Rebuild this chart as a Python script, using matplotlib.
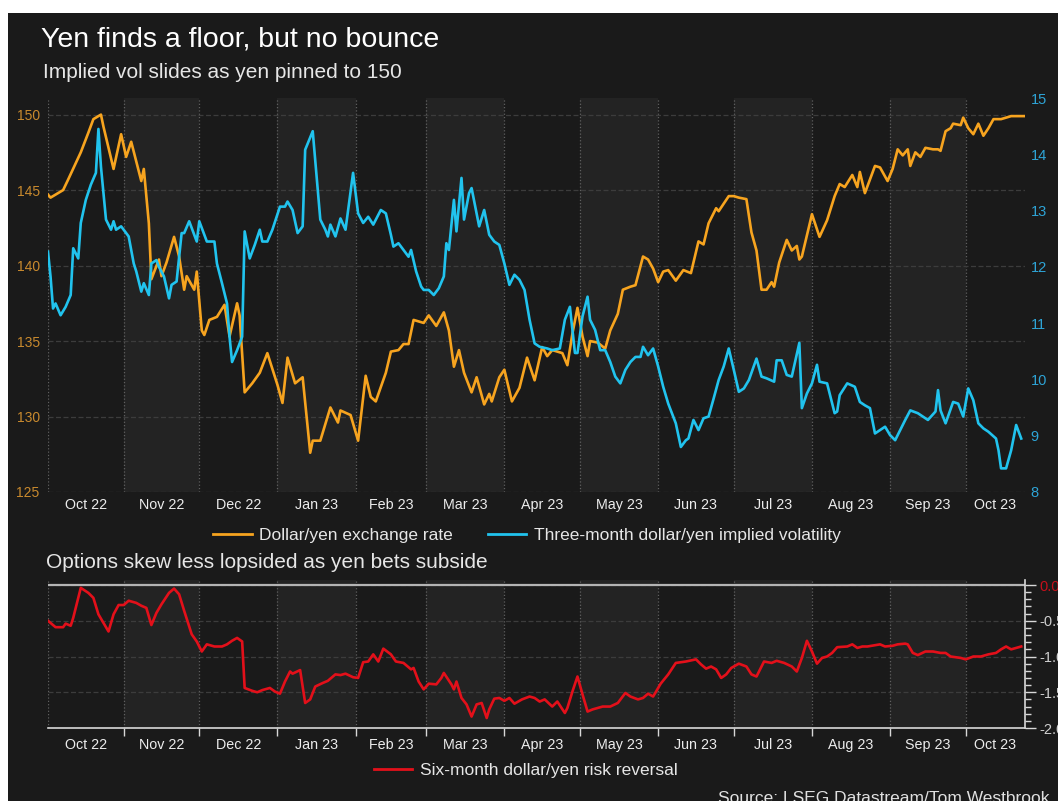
import matplotlib
matplotlib.use('Agg')
import matplotlib.pyplot as plt
import matplotlib.dates as mdates
from matplotlib.ticker import FixedLocator, FixedFormatter, MultipleLocator, FormatStrFormatter
from matplotlib.patches import Rectangle
from matplotlib.lines import Line2D
import pandas as pd

plt.rcParams['font.family'] = ['Liberation Sans', 'DejaVu Sans']
plt.rcParams['axes.unicode_minus'] = False

# all series: days after 2 Oct 2022, value
START = pd.Timestamp('2022-10-02')
END = pd.Timestamp('2023-10-24 12:00')

fx_day = [0, 1, 6, 8, 13, 16, 18, 21, 22, 26, 29, 31, 33, 37, 38, 40, 41, 44, 45, 47,
          50, 52, 54, 55, 58, 59, 61, 62, 64, 67, 70, 72, 75, 76, 78, 81, 84, 87, 91, 93,
          95, 98, 101, 104, 105, 108, 112, 115, 116, 120, 123, 126, 128, 130, 134, 136, 139, 141, 143, 145,
          149, 151, 154, 157, 159, 161, 163, 165, 168, 170, 173, 175, 176, 179, 181, 184, 187, 190, 193, 196,
          198, 200, 204, 206, 208, 210, 212, 214, 215, 218, 221, 223, 226, 228, 231, 233, 236, 238, 240, 242,
          244, 246, 249, 252, 255, 258, 260, 262, 265, 266, 270, 272, 274, 277, 279, 281, 283, 285, 287, 288,
          290, 293, 295, 297, 298, 299, 303, 306, 309, 312, 314, 316, 319, 321, 322, 324, 328, 330, 333, 335,
          337, 339, 341, 342, 344, 346, 348, 351, 353, 354, 356, 358, 359, 362, 363, 365, 367, 369, 371, 373,
          375, 378, 380, 382, 387]
fx_val = [144.7, 144.5, 145.0, 145.7, 147.5, 148.8, 149.7, 150.0, 149.2, 146.4, 148.7, 147.2, 148.2, 145.6, 146.4, 142.8, 139.1, 140.4, 139.3, 140.2,
          141.9, 140.6, 138.4, 139.3, 138.4, 139.6, 135.7, 135.4, 136.4, 136.6, 137.4, 135.3, 137.5, 136.7, 131.6, 132.2, 132.9, 134.2, 132.1, 130.9,
          133.9, 132.2, 132.6, 127.6, 128.4, 128.4, 130.6, 129.6, 130.4, 130.1, 128.4, 132.7, 131.3, 131.0, 132.9, 134.3, 134.4, 134.8, 134.8, 136.4,
          136.2, 136.7, 136.0, 136.9, 135.7, 133.3, 134.4, 132.9, 131.6, 132.6, 130.8, 131.5, 131.0, 132.6, 133.1, 131.0, 131.9, 133.9, 132.4, 134.6,
          134.0, 134.4, 134.2, 133.4, 135.5, 137.2, 135.3, 134.0, 135.0, 134.9, 134.5, 135.7, 136.8, 138.4, 138.6, 138.7, 140.6, 140.4, 139.8, 138.9,
          139.6, 139.7, 139.0, 139.7, 139.5, 141.6, 141.4, 142.8, 143.8, 143.6, 144.6, 144.6, 144.5, 144.4, 142.2, 141.0, 138.4, 138.4, 138.9, 138.6,
          140.2, 141.7, 141.0, 141.3, 140.4, 140.6, 143.4, 141.9, 143.0, 144.6, 145.4, 145.2, 146.0, 145.2, 146.2, 144.8, 146.6, 146.5, 145.6, 146.4,
          147.7, 147.3, 147.7, 146.6, 147.5, 147.2, 147.8, 147.7, 147.7, 147.6, 148.9, 149.1, 149.4, 149.3, 149.8, 149.1, 148.7, 149.4, 148.6, 149.1,
          149.7, 149.7, 149.8, 149.9, 149.9]

vol_day = [0, 1, 2, 3, 5, 7, 9, 10, 12, 13, 15, 17, 19, 20, 21, 23, 25, 26, 27, 29,
           31, 32, 34, 35, 37, 38, 40, 41, 43, 44, 46, 48, 49, 51, 53, 54, 56, 59, 60, 63,
           64, 66, 67, 69, 71, 72, 73, 75, 77, 78, 80, 82, 84, 85, 87, 89, 92, 94, 95, 97,
           99, 101, 102, 105, 108, 110, 111, 112, 114, 116, 118, 121, 123, 125, 127, 129, 132, 134, 136, 137,
           139, 141, 143, 144, 146, 148, 149, 151, 153, 155, 157, 158, 159, 161, 162, 164, 165, 167, 168, 171,
           173, 175, 177, 179, 181, 183, 185, 187, 189, 191, 193, 195, 198, 200, 203, 205, 207, 208, 209, 210,
           212, 214, 215, 217, 219, 221, 223, 225, 227, 229, 231, 233, 235, 236, 238, 240, 242, 244, 246, 249,
           251, 253, 254, 256, 258, 260, 262, 264, 266, 268, 270, 272, 274, 276, 278, 281, 283, 285, 288, 289,
           291, 293, 295, 298, 299, 301, 303, 305, 306, 309, 312, 313, 314, 317, 320, 322, 324, 326, 328, 330,
           332, 334, 336, 338, 340, 342, 345, 347, 349, 352, 353, 354, 356, 359, 361, 363, 365, 367, 369, 371,
           373, 376, 377, 378, 380, 382, 384, 386]
vol_val = [12.27, 11.83, 11.26, 11.35, 11.14, 11.29, 11.5, 12.33, 12.15, 12.78, 13.19, 13.46, 13.67, 14.45, 13.78, 12.84, 12.66, 12.81, 12.66, 12.72,
           12.6, 12.54, 12.06, 11.92, 11.56, 11.71, 11.5, 12.06, 12.12, 12.0, 11.83, 11.44, 11.68, 11.74, 12.6, 12.6, 12.81, 12.45, 12.81, 12.45,
           12.45, 12.45, 12.06, 11.71, 11.35, 10.76, 10.31, 10.52, 10.76, 12.63, 12.15, 12.39, 12.66, 12.45, 12.45, 12.66, 13.07, 13.07, 13.16, 13.01,
           12.6, 12.72, 14.08, 14.41, 12.84, 12.66, 12.54, 12.75, 12.54, 12.86, 12.66, 13.67, 12.95, 12.78, 12.89, 12.75, 13.01, 12.95, 12.57, 12.36,
           12.42, 12.3, 12.18, 12.3, 11.92, 11.65, 11.59, 11.59, 11.5, 11.62, 11.83, 12.42, 12.3, 13.19, 12.63, 13.58, 12.84, 13.31, 13.4, 12.72,
           13.01, 12.57, 12.45, 12.39, 12.06, 11.68, 11.86, 11.77, 11.59, 11.06, 10.64, 10.58, 10.55, 10.52, 10.55, 11.06, 11.29, 10.88, 10.47, 10.47,
           11.12, 11.47, 11.06, 10.88, 10.52, 10.52, 10.31, 10.05, 9.93, 10.17, 10.31, 10.4, 10.4, 10.58, 10.43, 10.55, 10.23, 9.87, 9.57, 9.22,
           8.8, 8.92, 8.95, 9.28, 9.1, 9.31, 9.34, 9.66, 9.99, 10.23, 10.55, 10.17, 9.78, 9.84, 9.99, 10.37, 10.05, 10.02, 9.96, 10.34,
           10.34, 10.08, 10.05, 10.65, 9.49, 9.75, 9.93, 10.26, 9.96, 9.93, 9.4, 9.43, 9.72, 9.93, 9.87, 9.6, 9.54, 9.49, 9.04, 9.1,
           9.16, 9.01, 8.92, 9.1, 9.28, 9.45, 9.4, 9.34, 9.28, 9.43, 9.81, 9.45, 9.22, 9.6, 9.57, 9.34, 9.84, 9.63, 9.22, 9.13,
           9.07, 8.95, 8.74, 8.42, 8.42, 8.74, 9.19, 8.95]

rr_day = [0, 1, 3, 6, 7, 9, 10, 13, 16, 18, 20, 22, 24, 26, 28, 30, 32, 35, 37, 39,
          41, 43, 45, 48, 50, 52, 54, 57, 59, 61, 63, 66, 69, 71, 73, 75, 77, 78, 81, 83,
          85, 88, 90, 92, 94, 96, 97, 100, 102, 104, 106, 109, 111, 114, 116, 118, 121, 123, 125, 127,
          129, 131, 133, 136, 138, 141, 144, 145, 147, 149, 151, 154, 156, 157, 160, 161, 162, 164, 166, 168,
          170, 172, 174, 175, 177, 179, 181, 183, 185, 188, 191, 193, 195, 197, 200, 202, 205, 206, 208, 210,
          212, 214, 216, 220, 223, 226, 229, 231, 234, 236, 238, 240, 243, 246, 249, 253, 257, 259, 261, 263,
          265, 267, 269, 271, 274, 277, 279, 281, 283, 284, 287, 289, 292, 295, 297, 299, 301, 303, 305, 307,
          309, 311, 313, 317, 319, 321, 323, 325, 330, 332, 335, 337, 340, 341, 343, 345, 348, 351, 354, 356,
          358, 362, 364, 367, 370, 373, 376, 378, 380, 382, 384, 386]
rr_val = [-0.50, -0.53, -0.59, -0.59, -0.54, -0.57, -0.46, -0.04, -0.11, -0.18, -0.41, -0.53, -0.65, -0.41, -0.28, -0.28, -0.22, -0.25, -0.29, -0.32,
          -0.56, -0.39, -0.27, -0.11, -0.05, -0.13, -0.36, -0.69, -0.79, -0.93, -0.83, -0.86, -0.86, -0.83, -0.78, -0.74, -0.79, -1.44, -1.48, -1.50,
          -1.47, -1.44, -1.49, -1.52, -1.35, -1.21, -1.24, -1.19, -1.65, -1.60, -1.42, -1.37, -1.34, -1.25, -1.26, -1.24, -1.29, -1.30, -1.08, -1.07,
          -0.97, -1.07, -0.89, -0.97, -1.07, -1.09, -1.18, -1.16, -1.35, -1.46, -1.38, -1.39, -1.30, -1.23, -1.39, -1.46, -1.35, -1.58, -1.67, -1.84,
          -1.67, -1.65, -1.86, -1.74, -1.59, -1.58, -1.62, -1.58, -1.66, -1.60, -1.56, -1.58, -1.63, -1.60, -1.70, -1.63, -1.79, -1.72, -1.49, -1.28,
          -1.53, -1.77, -1.74, -1.70, -1.70, -1.65, -1.51, -1.56, -1.60, -1.58, -1.52, -1.56, -1.38, -1.25, -1.09, -1.07, -1.04, -1.11, -1.17, -1.14,
          -1.18, -1.30, -1.25, -1.16, -1.10, -1.14, -1.25, -1.28, -1.14, -1.07, -1.09, -1.06, -1.09, -1.14, -1.21, -1.02, -0.78, -0.93, -1.10, -1.02,
          -1.00, -0.95, -0.87, -0.86, -0.83, -0.88, -0.86, -0.86, -0.83, -0.86, -0.85, -0.83, -0.82, -0.83, -0.95, -0.98, -0.93, -0.93, -0.95, -0.95,
          -1.00, -1.02, -1.04, -1.00, -1.00, -0.97, -0.95, -0.90, -0.86, -0.90, -0.88, -0.86]

fx_dates = START + pd.to_timedelta(fx_day, unit='D')
vol_dates = START + pd.to_timedelta(vol_day, unit='D')
rr_dates = START + pd.to_timedelta(rr_day, unit='D')

BG = '#1a1a1a'
BAND = '#232323'
ORANGE = '#f7a41f'
CYAN = '#21c3ee'
RED = '#e3101a'
W, H = 1058, 801

fig = plt.figure(figsize=(W / 100, H / 100), dpi=100, facecolor='white')
fig.add_artist(Rectangle((8 / W, 0), 1, 1 - 13 / H, transform=fig.transFigure,
                         facecolor=BG, edgecolor='none', zorder=-10))

month_starts = pd.date_range('2022-10-01', '2023-11-01', freq='MS')
mids, labels = [], []
for a, b in zip(month_starts[:-1], month_starts[1:]):
    lo, hi = max(a, START), min(b, END)
    mids.append(mdates.date2num(lo + (hi - lo) / 2))
    labels.append(a.strftime('%b %y'))


def style_dates(ax):
    ax.set_xlim(START, END)
    for a, b in zip(month_starts[:-1], month_starts[1:]):
        if a.month % 2 == 1:
            ax.axvspan(a, b, color=BAND, zorder=0, lw=0)
    ax.xaxis.set_major_locator(mdates.MonthLocator())
    ax.xaxis.set_major_formatter(plt.NullFormatter())
    ax.xaxis.set_minor_locator(FixedLocator(mids))
    ax.xaxis.set_minor_formatter(FixedFormatter(labels))
    ax.grid(axis='x', which='major', color='#606060', ls=':', lw=0.9)
    ax.axvline(START, color='#606060', ls=':', lw=0.9)


# top panel
ax = fig.add_axes([48 / W, 1 - 492 / H, 977 / W, 394 / H])
ax.set_facecolor(BG)
style_dates(ax)
ax.plot(fx_dates, fx_val, color=ORANGE, lw=1.9, zorder=3)
ax.set_ylim(125, 151.1)
ax.set_yticks(range(125, 151, 5))
ax.grid(axis='y', color='#3c3c3c', ls=(0, (4, 2)), lw=0.9)
ax.tick_params(axis='y', length=0, labelcolor='#c98a2e', labelsize=10, pad=6)
ax.tick_params(axis='x', which='both', length=0, labelcolor='#ececec', labelsize=10.3, pad=4)
for s in ax.spines.values():
    s.set_visible(False)

ax2 = ax.twinx()
ax2.plot(vol_dates, vol_val, color=CYAN, lw=1.9)
ax2.set_ylim(8, 15)
ax2.set_yticks(range(8, 16))
ax2.tick_params(axis='y', length=0, labelcolor='#2ea4d6', labelsize=10.5, pad=4)
for s in ax2.spines.values():
    s.set_visible(False)

h1 = Line2D([], [], color=ORANGE, lw=2)
h2 = Line2D([], [], color=CYAN, lw=2)
fig.legend([h1, h2], ['Dollar/yen exchange rate', 'Three-month dollar/yen implied volatility'],
           loc='center', bbox_to_anchor=(527 / W, 1 - 535 / H), ncol=2, frameon=False,
           fontsize=12.5, handlelength=2.2, handletextpad=0.45, columnspacing=2.0,
           labelcolor='#e6e6e6', borderpad=0, borderaxespad=0)

# bottom panel
axb = fig.add_axes([48 / W, 1 - 728 / H, 977 / W, 148 / H])
axb.set_facecolor(BG)
style_dates(axb)
axb.plot(rr_dates, rr_val, color=RED, lw=1.9, zorder=3)
axb.set_ylim(-2, 0.07)
axb.yaxis.tick_right()
axb.set_yticks([0, -0.5, -1, -1.5, -2])
axb.yaxis.set_minor_locator(MultipleLocator(0.1))
axb.yaxis.set_major_formatter(FormatStrFormatter('%.1f'))
axb.grid(axis='y', which='major', color='#3c3c3c', ls=(0, (4, 2)), lw=0.9)
axb.axhline(0, color='#b4b4b4', lw=1.6, zorder=2)
axb.tick_params(axis='y', which='major', length=8, width=1, color='#d8d8d8',
                labelcolor='#cfcfcf', labelsize=10.5, pad=2)
axb.tick_params(axis='y', which='minor', length=4, width=1, color='#d8d8d8')
axb.tick_params(axis='x', which='major', length=6, width=1, color='#d8d8d8')
axb.tick_params(axis='x', which='minor', length=0, labelcolor='#ececec', labelsize=10.3, pad=7)
for side in ['left', 'top']:
    axb.spines[side].set_visible(False)
for side in ['right', 'bottom']:
    axb.spines[side].set_color('#d8d8d8')
    axb.spines[side].set_linewidth(1.2)
for t in axb.get_yticklabels():
    if t.get_text() == '0.0':
        t.set_color('#c4101a')

h3 = Line2D([], [], color=RED, lw=2)
fig.legend([h3], ['Six-month dollar/yen risk reversal'],
           loc='center', bbox_to_anchor=(526 / W, 1 - 770 / H), frameon=False,
           fontsize=12.5, handlelength=2.2, handletextpad=0.45,
           labelcolor='#e6e6e6', borderpad=0, borderaxespad=0)

# titles and source
fig.text(41 / W, 1 - 47 / H, 'Yen finds a floor, but no bounce', fontsize=20.5,
         color='white', va='baseline')
fig.text(43 / W, 1 - 78 / H, 'Implied vol slides as yen pinned to 150', fontsize=15,
         color='#e6e6e6', va='baseline')
fig.text(46 / W, 1 - 568 / H, 'Options skew less lopsided as yen bets subside', fontsize=15,
         color='#e6e6e6', va='baseline')
fig.text(1050 / W, -0.002, 'Source: LSEG Datastream/Tom Westbrook', fontsize=12.5,
         color='#e0e0e0', ha='right', va='baseline')

fig.savefig('out.png', dpi=100, facecolor=fig.get_facecolor())
